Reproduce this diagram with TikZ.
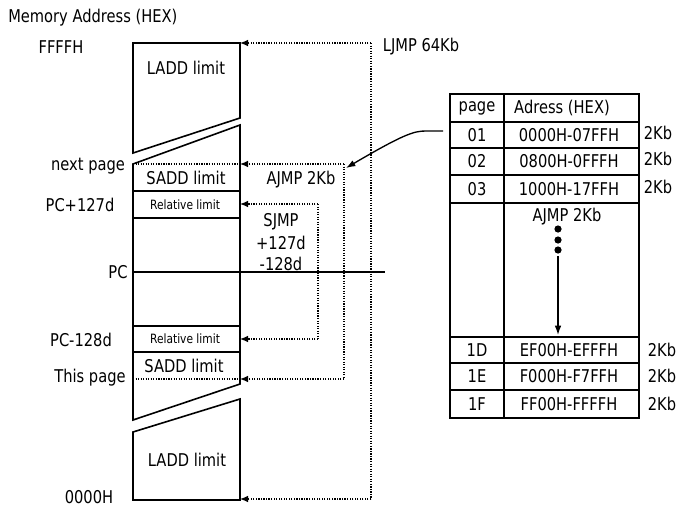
\documentclass[tikz,border=0pt]{standalone}
\usepackage{fontspec}
\usepackage{graphicx}
\setmainfont{DejaVu Sans}
\usetikzlibrary{arrows.meta}
\newcommand\vtext[1]{\scalebox{1}[1.2]{#1}}
\begin{document}
\begin{tikzpicture}[x=0.75pt,y=-0.75pt,
  lbl/.style={inner sep=0pt, font=\fontsize{11}{13}\selectfont},
  small/.style={inner sep=0pt, font=\fontsize{8}{10}\selectfont},
  dline/.style={densely dotted, line width=0.9pt},
  darr/.style={dline, -{Latex[length=6pt,width=5pt]}},
  wall/.style={line width=1.2pt},
  sarr/.style={line width=1pt, -{Latex[length=7pt,width=5pt]}}]
\useasboundingbox (0,0) rectangle (677,506);

% ---- memory column ----
\draw[wall] (133,43) -- (240,43) -- (240,118) -- (133,153) -- cycle;
\draw[wall] (240,384) -- (240,125) -- (133,164) -- (133,420) -- cycle;
\draw[wall] (133,432) -- (240,399) -- (240,500) -- (133,500) -- cycle;
\draw[wall] (133,191) -- (240,191);
\draw[wall] (133,218) -- (240,218);
\draw[wall] (133,326) -- (240,326);
\draw[wall] (133,352) -- (240,352);
\draw[dline] (133,164) -- (240,164);
\draw[dline] (133,379) -- (240,379);

\coordinate (cTop) at (240,43);
\coordinate (cNext) at (240,164);
\coordinate (cRelT) at (240,204);
\coordinate (cRelB) at (240,339);
\coordinate (cThis) at (240,379);
\coordinate (cBot) at (240,499);
\coordinate (pcL) at (133,272);
\coordinate (pcR) at (385,272);
\draw[wall] (pcL) -- (pcR);

% ---- jump ranges ----
\coordinate (ljT) at (371,43);
\coordinate (ljB) at (371,499);
\draw[dline] (ljT) -- (ljB);
\draw[darr] (ljT) -- (cTop);
\draw[darr] (ljB) -- (cBot);

\coordinate (ajT) at (344,164);
\coordinate (ajB) at (344,379);
\draw[dline] (ajT) -- (ajB);
\draw[darr] (ajT) -- (cNext);
\draw[darr] (ajB) -- (cThis);

\coordinate (sjT) at (318,204);
\coordinate (sjB) at (318,339);
\draw[dline] (sjT) -- (sjB);
\draw[darr] (sjT) -- (cRelT);
\draw[darr] (sjB) -- (cRelB);

% ---- labels ----
\node[lbl, anchor=west] (title) at (8,18) {\vtext{Memory Address (HEX)}};
\node[lbl] (ffff) at (61,47) {\vtext{FFFFH}};
\node[lbl] (next) at (88,166) {\vtext{next page}};
\node[lbl] (pcp) at (80,205) {\vtext{PC+127d}};
\node[lbl] (pc) at (118,272) {\vtext{PC}};
\node[lbl] (pcm) at (81,340) {\vtext{PC-128d}};
\node[lbl] (this) at (90,378) {\vtext{This page}};
\node[lbl] (zero) at (89,497) {\vtext{0000H}};
\node[lbl] (ladd1) at (186,68) {\vtext{LADD limit}};
\node[lbl] (sadd1) at (186,178) {\vtext{SADD limit}};
\node[small] (rel1) at (185,205) {\vtext{Relative limit}};
\node[small] (rel2) at (185,339) {\vtext{Relative limit}};
\node[lbl] (sadd2) at (184,366) {\vtext{SADD limit}};
\node[lbl] (ladd2) at (187,460) {\vtext{LADD limit}};
\node[lbl] (ljmp) at (421,47) {\vtext{LJMP 64Kb}};
\node[lbl] (ajmp) at (301,180) {\vtext{AJMP 2Kb}};
\node[lbl] (sj1) at (281,222) {\vtext{SJMP}};
\node[lbl] (sj2) at (281,243) {\vtext{+127d}};
\node[lbl] (sj3) at (281,264) {\vtext{-128d}};

% ---- page table ----
\draw[wall] (450,94) rectangle (639,418);
\draw[wall] (504,94) -- (504,418);
\foreach \yy in {122,148,175,203,337,363,390}
  \draw[wall] (450,\yy) -- (639,\yy);
\node[lbl] (hPage) at (477,108) {\vtext{page}};
\node[lbl] (hAddr) at (562,108) {\vtext{Adress (HEX)}};
\node[lbl] (p01) at (477,135) {\vtext{01}};
\node[lbl] (a01) at (569,135) {\vtext{0000H-07FFH}};
\node[lbl] (k01) at (658,133) {\vtext{2Kb}};
\node[lbl] (p02) at (477,161) {\vtext{02}};
\node[lbl] (a02) at (569,161) {\vtext{0800H-0FFFH}};
\node[lbl] (k02) at (658,159) {\vtext{2Kb}};
\node[lbl] (p03) at (477,189) {\vtext{03}};
\node[lbl] (a03) at (569,189) {\vtext{1000H-17FFH}};
\node[lbl] (k03) at (658,187) {\vtext{2Kb}};
\node[lbl] (tajmp) at (567,217) {\vtext{AJMP 2Kb}};
\node[lbl] (p1d) at (477,350) {\vtext{1D}};
\node[lbl] (a1d) at (569,350) {\vtext{EF00H-EFFFH}};
\node[lbl] (k1d) at (662,350) {\vtext{2Kb}};
\node[lbl] (p1e) at (477,376) {\vtext{1E}};
\node[lbl] (a1e) at (569,376) {\vtext{F000H-F7FFH}};
\node[lbl] (k1e) at (662,376) {\vtext{2Kb}};
\node[lbl] (p1f) at (477,404) {\vtext{1F}};
\node[lbl] (a1f) at (569,404) {\vtext{FF00H-FFFFH}};
\node[lbl] (k1f) at (662,404) {\vtext{2Kb}};

\foreach \yy in {229,240,250} \fill (558,\yy) circle (3.6);
\coordinate (dArrT) at (558,256);
\coordinate (dArrB) at (558,335);
\draw[sarr] (dArrT) -- (dArrB);

% ---- arrow from table to AJMP ----
\coordinate (tabS) at (443,131);
\coordinate (ajTip) at (346,168);
\draw[sarr] (tabS) -- (426,131) .. controls (414,131) and (404,134) .. (ajTip);
\end{tikzpicture}
\end{document}
